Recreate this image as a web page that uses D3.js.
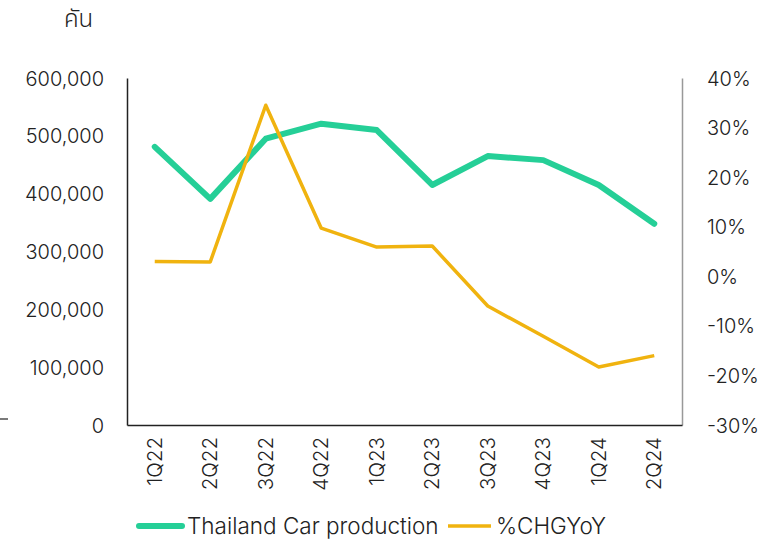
<!DOCTYPE html>
<html>
<head>
<meta charset="utf-8">
<script src="https://cdn.jsdelivr.net/npm/d3@7"></script>
<style>
  body { margin: 0; background: #fff; }
  svg text { font-family: Inter, "Noto Sans", sans-serif; fill: #222; font-weight: 300; }
</style>
</head>
<body>
<div class="chart"></div>
<script>
var quarters = ["1Q22", "2Q22", "3Q22", "4Q22", "1Q23", "2Q23", "3Q23", "4Q23", "1Q24", "2Q24"];
var production = [481000, 391000, 495000, 521000, 510000, 415000, 465000, 458000, 415000, 348000];
var chgYoY = [3.0, 2.9, 34.5, 9.7, 5.9, 6.1, -6.0, -12.1, -18.3, -16.0];
var leftTicks = [0, 100000, 200000, 300000, 400000, 500000, 600000];
var rightTicks = [-30, -20, -10, 0, 10, 20, 30, 40];

var svgWidth = 774;
var svgHeight = 539;
var margin = { top: 78, right: 92, bottom: 114, left: 127 };
var width = svgWidth - margin.left - margin.right;
var height = svgHeight - margin.top - margin.bottom;

var svg = d3.select(".chart")
    .append("svg")
    .attr("width", svgWidth)
    .attr("height", svgHeight);

var chartGroup = svg.append("g")
    .attr("transform", `translate(${margin.left}, ${margin.top})`);

// scales
var xScale = d3.scaleBand()
    .domain(quarters)
    .range([0, width]);

var yLeft = d3.scaleLinear()
    .domain([0, 600000])
    .range([height, 0]);

var yRight = d3.scaleLinear()
    .domain([-30, 40])
    .range([height, 0]);

var fmtComma = d3.format(",");

// left axis
var leftAxis = chartGroup.append("g")
    .call(d3.axisLeft(yLeft).tickValues(leftTicks).tickSize(0).tickPadding(23).tickFormat(fmtComma));
leftAxis.select(".domain").attr("stroke", "#222").attr("stroke-width", 1.5);
leftAxis.selectAll("text").style("font-size", "20px").attr("dy", "0.35em");

// right axis
var rightAxis = chartGroup.append("g")
    .attr("transform", `translate(${width}, 0)`)
    .call(d3.axisRight(yRight).tickValues(rightTicks).tickSize(0).tickPadding(25).tickFormat(d => d + "%"));
rightAxis.select(".domain").attr("stroke", "#999").attr("stroke-width", 1.5);
rightAxis.selectAll("text").style("font-size", "20px").attr("dy", "0.35em");

// bottom axis
var bottomAxis = chartGroup.append("g")
    .attr("transform", `translate(0, ${height})`)
    .call(d3.axisBottom(xScale).tickSize(0).tickPadding(12));
bottomAxis.select(".domain").attr("stroke", "#222").attr("stroke-width", 1.5);
bottomAxis.selectAll("text")
    .style("font-size", "20.5px")
    .attr("transform", "rotate(-90)")
    .attr("text-anchor", "end")
    .attr("x", -12)
    .attr("y", 0)
    .attr("dy", "0.35em");

// lines
var cx = d => xScale(d) + xScale.bandwidth() / 2;

var prodLine = d3.line()
    .x((d, i) => cx(quarters[i]))
    .y(d => yLeft(d));

var chgLine = d3.line()
    .x((d, i) => cx(quarters[i]))
    .y(d => yRight(d));

chartGroup.append("path")
    .datum(production)
    .attr("d", prodLine)
    .attr("fill", "none")
    .attr("stroke", "#25cf97")
    .attr("stroke-width", 6)
    .attr("stroke-linejoin", "round")
    .attr("stroke-linecap", "round");

chartGroup.append("path")
    .datum(chgYoY)
    .attr("d", chgLine)
    .attr("fill", "none")
    .attr("stroke", "#f0b30f")
    .attr("stroke-width", 3.5)
    .attr("stroke-linejoin", "round");

// unit label
svg.append("text")
    .attr("x", 64)
    .attr("y", 27)
    .style("font-size", "24px")
    .style("font-family", "'Noto Sans Thai', 'Noto Sans', sans-serif")
    .text("คัน");

// small dash at left
svg.append("line")
    .attr("x1", 0).attr("x2", 8)
    .attr("y1", 419).attr("y2", 419)
    .attr("stroke", "#222").attr("stroke-width", 1.2);

// legend
var legend = svg.append("g");
legend.append("line")
    .attr("x1", 139).attr("x2", 182)
    .attr("y1", 526).attr("y2", 526)
    .attr("stroke", "#25cf97").attr("stroke-width", 6).attr("stroke-linecap", "round");
legend.append("text")
    .attr("x", 187).attr("y", 526).attr("dy", "0.35em")
    .style("font-size", "22.5px")
    .text("Thailand Car production");
legend.append("line")
    .attr("x1", 448).attr("x2", 491)
    .attr("y1", 526).attr("y2", 526)
    .attr("stroke", "#f0b30f").attr("stroke-width", 3.5);
legend.append("text")
    .attr("x", 496).attr("y", 526).attr("dy", "0.35em")
    .style("font-size", "22.5px")
    .text("%CHGYoY");
</script>
</body>
</html>
